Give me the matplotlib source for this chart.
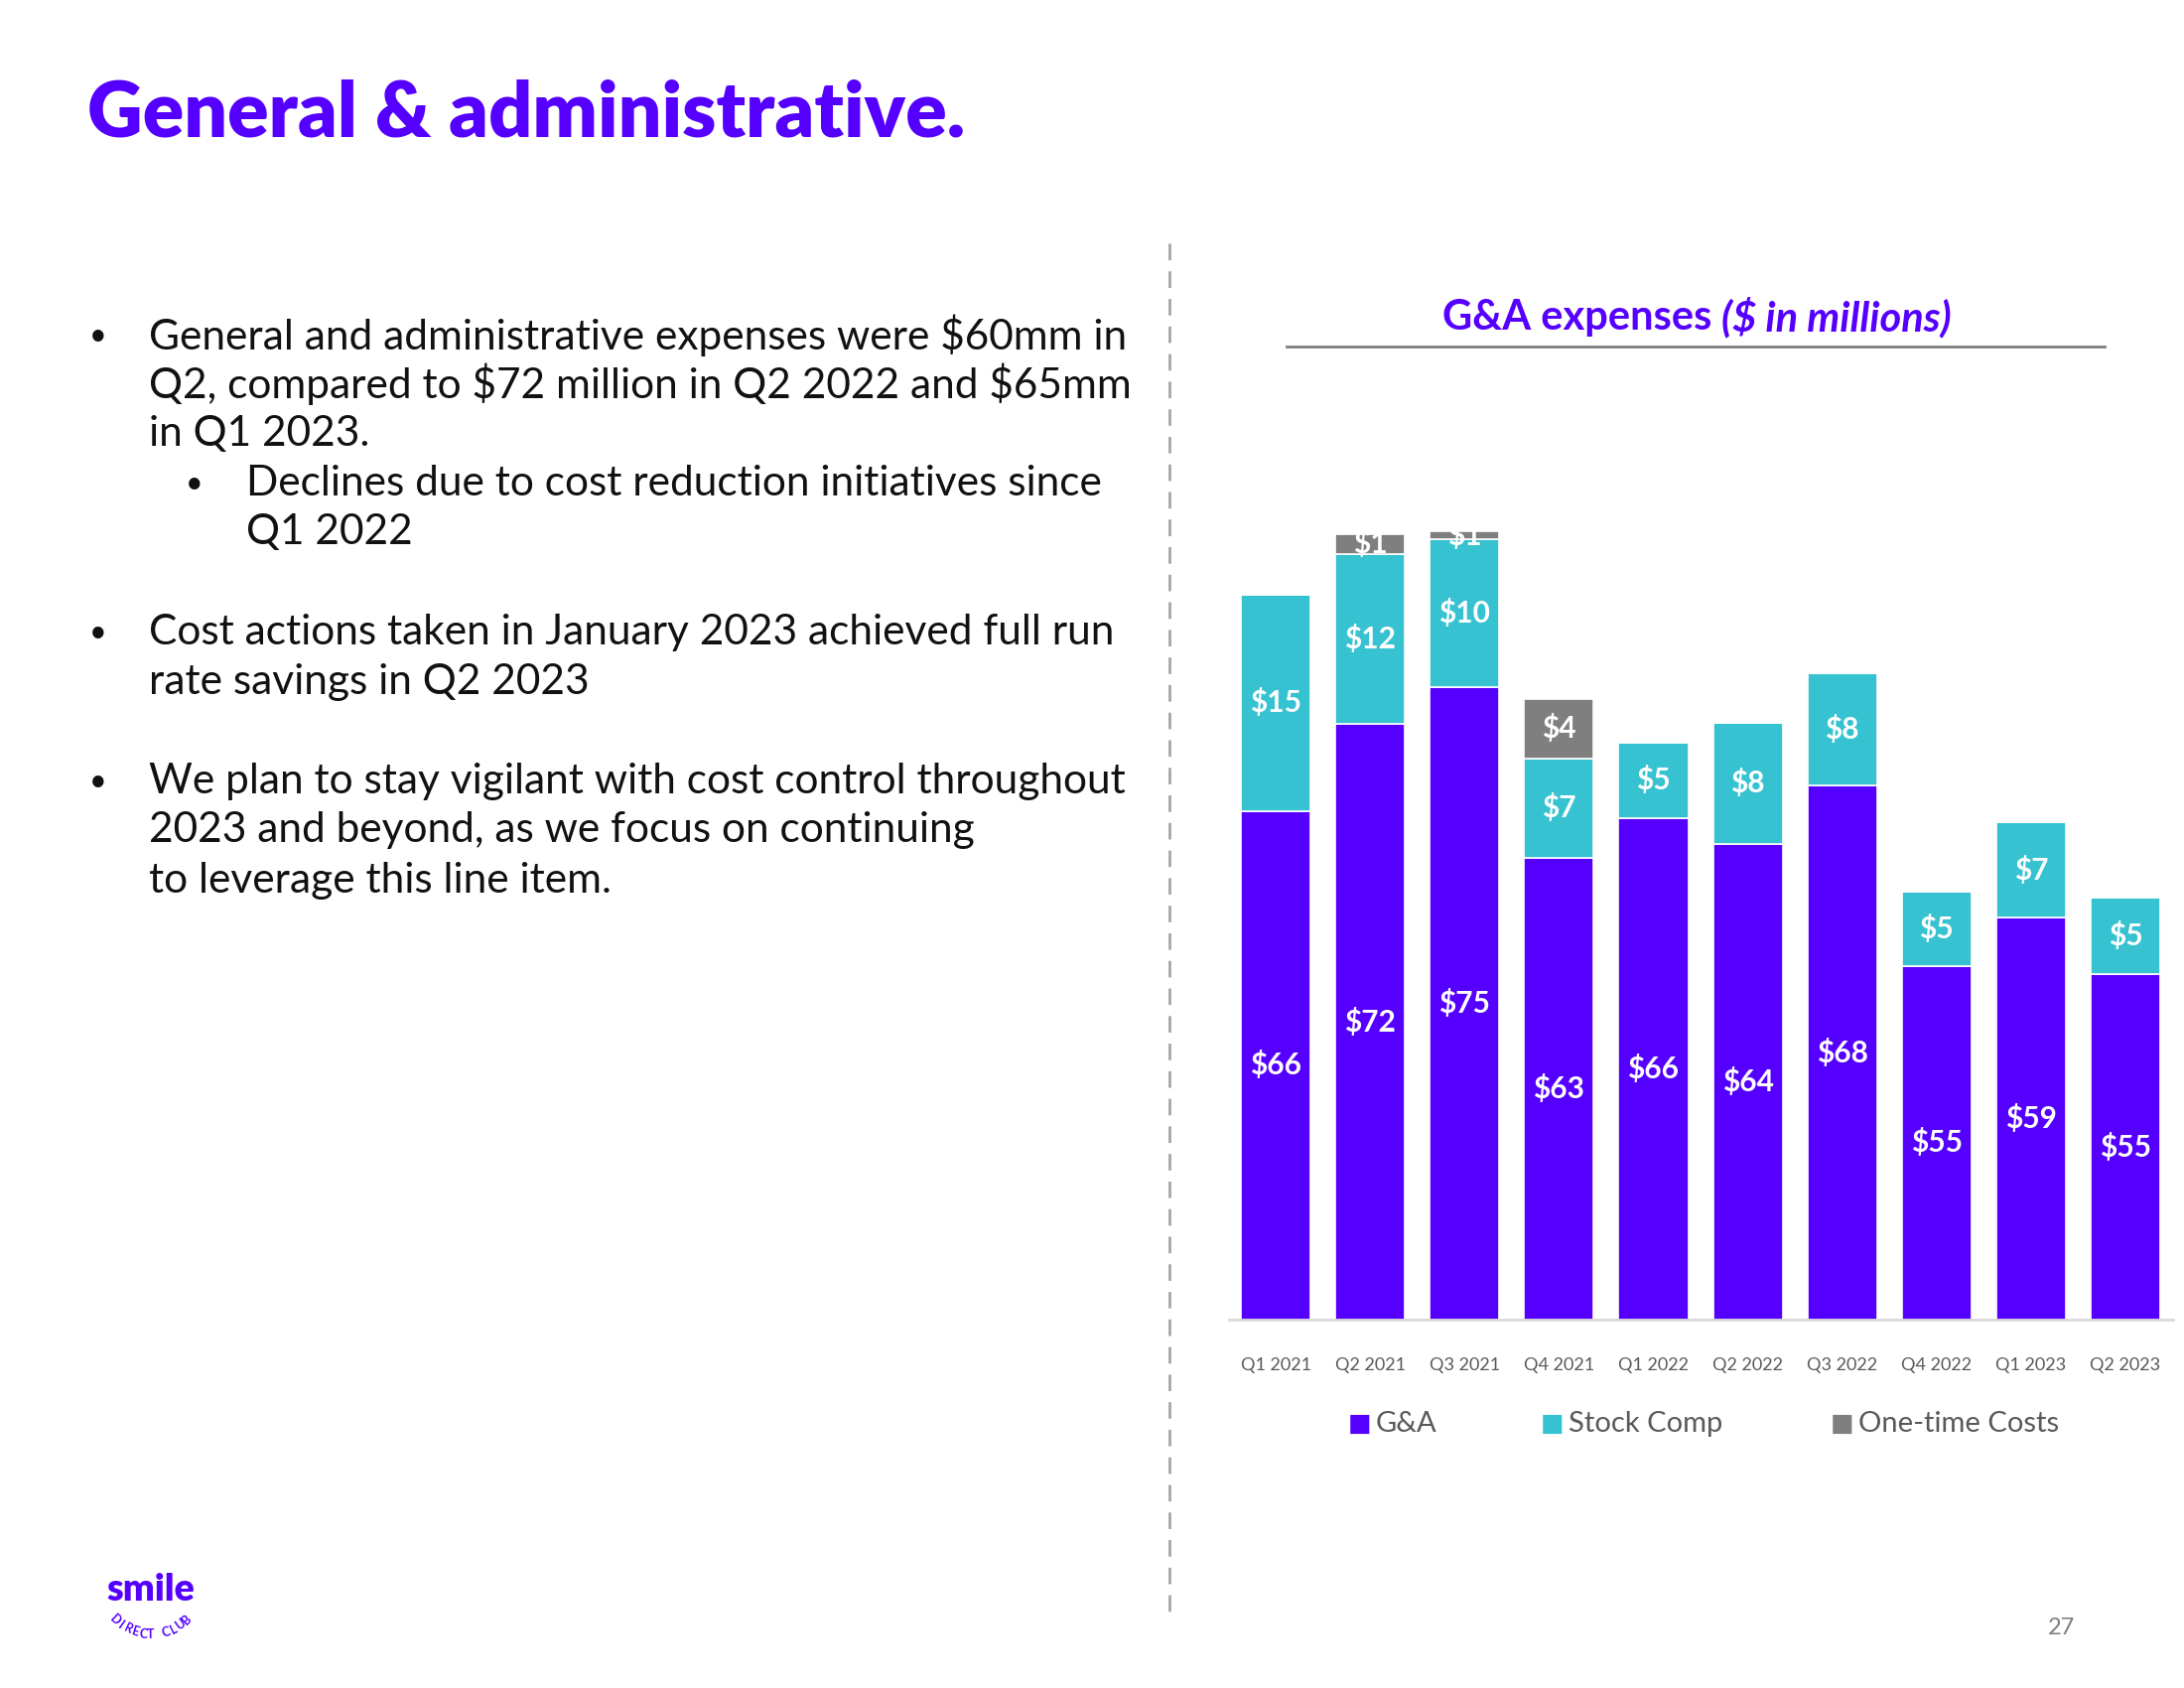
import numpy as np
import matplotlib
matplotlib.use("Agg")
import matplotlib.pyplot as plt

# --- data ---
quarters = ["Q1 2021", "Q2 2021", "Q3 2021", "Q4 2021", "Q1 2022",
            "Q2 2022", "Q3 2022", "Q4 2022", "Q1 2023", "Q2 2023"]
ga = [66.3, 72.4, 75.0, 63.0, 65.8, 64.0, 68.1, 55.4, 58.8, 54.8]
stock_comp = [15.2, 12.0, 10.4, 7.0, 5.3, 8.5, 7.9, 5.2, 6.7, 5.4]
one_time = [0.0, 1.4, 0.6, 4.2, 0.0, 0.0, 0.0, 0.0, 0.0, 0.0]

series_names = ["G&A", "Stock Comp", "One-time Costs"]
colors = ["#5500FF", "#36C2D0", "#7F7F7F"]

title = "General & administrative."
bullets = [
    (0, ["General and administrative expenses were $60mm in",
         "Q2, compared to $72 million in Q2 2022 and $65mm",
         "in Q1 2023."]),
    (1, ["Declines due to cost reduction initiatives since",
         "Q1 2022"]),
    (0, ["Cost actions taken in January 2023 achieved full run",
         "rate savings in Q2 2023"]),
    (0, ["We plan to stay vigilant with cost control throughout",
         "2023 and beyond, as we focus on continuing",
         "to leverage this line item."]),
]

W, H = 2200, 1700
PURPLE = "#5500FF"
plt.rcParams["font.family"] = ["Lato", "DejaVu Sans"]


def fx(x):
    return x / W


def fy(y):
    return 1 - y / H


def txt(x, y, s, **kw):
    # dollar signs are plain text here, not mathtext
    return fig.text(fx(x), fy(y), s, parse_math=False, **kw)


fig = plt.figure(figsize=(22, 17), dpi=100)
fig.patch.set_facecolor("white")

# --- slide title ---
txt(88, 137, title, fontsize=55.5, fontweight="heavy", color=PURPLE,
    ha="left", va="baseline")

# --- bullet text ---
line_y = [338, 387, 437, 487, 536, 637, 687, 787, 836, 887]
k = 0
for level, lines in bullets:
    bx = 90 if level == 0 else 187
    tx = 150 if level == 0 else 248
    txt(bx, line_y[k], "\u2022", fontsize=22, color="#111111",
        ha="left", va="center")
    for ln in lines:
        txt(tx, line_y[k], ln, fontsize=30.5, color="#111111",
            ha="left", va="center")
        k += 1

# dashed divider
fig.add_artist(plt.Line2D([fx(1178), fx(1178)], [fy(245), fy(1628)],
                          color="#A6A6A6", lw=2, ls=(0, (6, 4))))

# --- chart ---
ax = fig.add_axes([0.5625, 0.2182, 0.4323, 0.5009])
y0 = 30.5
x = np.arange(len(quarters))
width = 0.737
bottoms = np.zeros(len(quarters))
for vals, name, c in zip([ga, stock_comp, one_time], series_names, colors):
    vals = np.array(vals)
    ax.bar(x, vals, width, bottom=bottoms, color=c, edgecolor="white",
           linewidth=1.2, label=name)
    for i, v in enumerate(vals):
        if v <= 0:
            continue
        lo = max(bottoms[i], y0)
        hi = bottoms[i] + v
        ax.text(x[i], (lo + hi) / 2, f"${v:.0f}", color="white",
                fontsize=21.5, fontweight="bold", ha="center", va="center",
                parse_math=False)
    bottoms += vals

ax.set_xlim(-0.5, len(quarters) - 0.5)
ax.set_ylim(y0, 90)
ax.set_xticks(x)
ax.set_xticklabels(quarters, fontsize=13, color="#595959")
ax.tick_params(axis="x", length=0, pad=27)
ax.set_yticks([])
for s in ["top", "left", "right"]:
    ax.spines[s].set_visible(False)
ax.spines["bottom"].set_color("#D9D9D9")
ax.spines["bottom"].set_linewidth(2)

# chart heading
txt(1724, 320, "G&A expenses", fontsize=30, fontweight="bold",
    color=PURPLE, ha="right", va="center")
txt(1734, 320, "($ in millions)", fontsize=30, fontweight="bold",
    fontstyle="italic", color=PURPLE, ha="left", va="center")
fig.add_artist(plt.Line2D([fx(1296), fx(2120)], [fy(349), fy(349)],
                          color="#7F7F7F", lw=2))

# legend
leg_pos = [(1370, 1386), (1564, 1580), (1856, 1872)]
for (sx, tx), name, c in zip(leg_pos, series_names, colors):
    txt(sx, 1434, "\u25A0", fontsize=18, color=c,
        ha="center", va="center", family="DejaVu Sans")
    txt(tx, 1434, name, fontsize=21, color="#595959",
        ha="left", va="center")

# logo
txt(107, 1601, "smile", fontsize=27, fontweight="heavy", color=PURPLE,
    ha="left", va="center")
logo_sub = "DIRECT CLUB"
cx, cy, r = 152, 1594, 52
angs = np.linspace(-44, 44, len(logo_sub))
for ch, a in zip(logo_sub, angs):
    t = np.radians(a)
    txt(cx + r * np.sin(t), cy + r * np.cos(t), ch, fontsize=9,
        fontweight="bold", color=PURPLE, rotation=a,
        ha="center", va="center", rotation_mode="anchor")

# page number
txt(2076, 1639, "27", fontsize=17, color="#7F7F7F", ha="center", va="center")

fig.savefig("out.png", dpi=100)
